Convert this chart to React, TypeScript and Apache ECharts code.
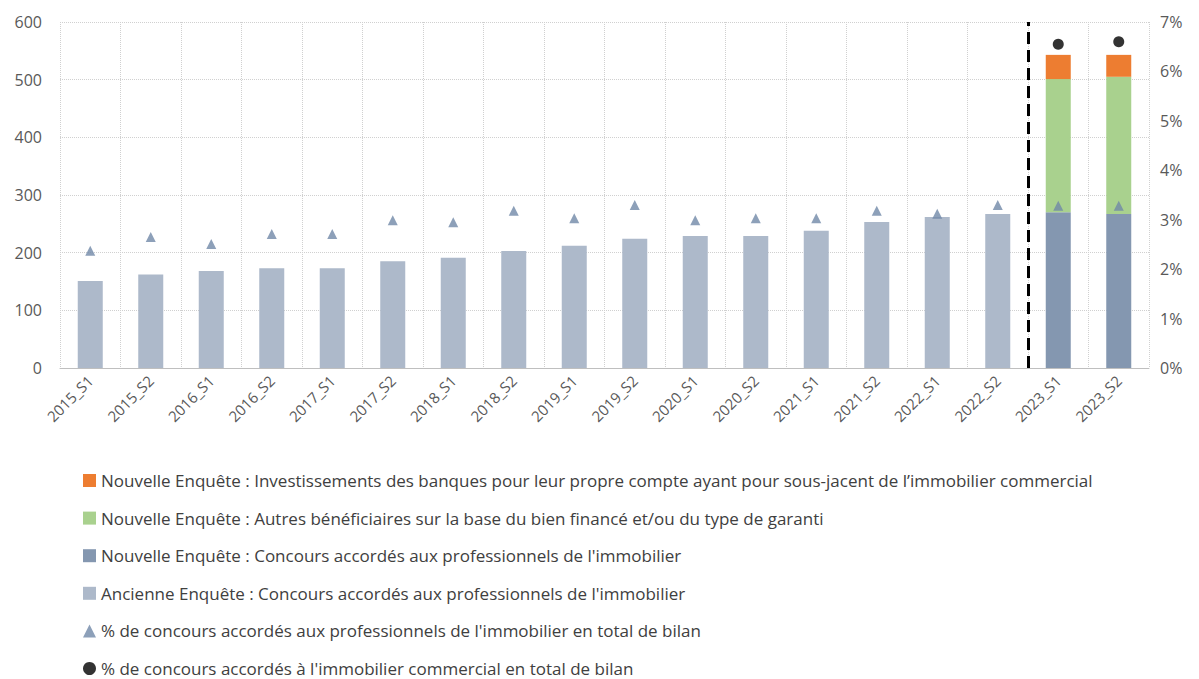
import React, { useEffect, useRef } from "react";
import * as echarts from "echarts";

const categories = [
  "2015_S1", "2015_S2", "2016_S1", "2016_S2", "2017_S1", "2017_S2",
  "2018_S1", "2018_S2", "2019_S1", "2019_S2", "2020_S1", "2020_S2",
  "2021_S1", "2021_S2", "2022_S1", "2022_S2", "2023_S1", "2023_S2",
];

const ancienne: (number | string)[] = [
  151, 162, 168, 173, 173, 185, 191, 203, 212, 224, 229, 229, 238, 253, 262, 267, "-", "-",
];
const nouvelleConcours: (number | string)[] = [
  "-", "-", "-", "-", "-", "-", "-", "-", "-", "-", "-", "-", "-", "-", "-", "-", 270, 267,
];
const autresBeneficiaires: (number | string)[] = [
  "-", "-", "-", "-", "-", "-", "-", "-", "-", "-", "-", "-", "-", "-", "-", "-", 231, 238,
];
const investissements: (number | string)[] = [
  "-", "-", "-", "-", "-", "-", "-", "-", "-", "-", "-", "-", "-", "-", "-", "-", 42, 38,
];
const pctProfessionnels = [
  2.37, 2.65, 2.51, 2.71, 2.71, 2.99, 2.95, 3.18, 3.03, 3.3, 2.99, 3.03, 3.03, 3.18, 3.12, 3.3, 3.28, 3.28,
];
const pctCommercial: (number | string)[] = [
  "-", "-", "-", "-", "-", "-", "-", "-", "-", "-", "-", "-", "-", "-", "-", "-", 6.55, 6.6,
];
const surveyBreakIndex = 16;

const names = {
  inv: "Nouvelle Enquête : Investissements des banques pour leur propre compte ayant pour sous-jacent de l’immobilier commercial",
  autres: "Nouvelle Enquête : Autres bénéficiaires sur la base du bien financé et/ou du type de garanti",
  nouv: "Nouvelle Enquête : Concours accordés aux professionnels de l'immobilier",
  anc: "Ancienne Enquête : Concours accordés aux professionnels de l'immobilier",
  pctPro: "% de concours accordés aux professionnels de l'immobilier en total de bilan",
  pctCom: "% de concours accordés à l'immobilier commercial en total de bilan",
};

export default function App() {
  const ref = useRef<HTMLDivElement>(null);
  useEffect(() => {
    if (!ref.current) return;
    const chart = echarts.init(ref.current, null, { renderer: "svg" });
    const font = "Open Sans";
    const gridStyle = { color: "#d0d0d0", type: "dotted" as const, width: 1 };
    chart.setOption({
      animation: false,
      textStyle: { fontFamily: font },
      grid: { left: 60, right: 50, top: 22, bottom: 311 },
      legend: {
        orient: "vertical",
        left: 83,
        top: 472,
        padding: 0,
        itemWidth: 13,
        itemHeight: 13,
        itemGap: 20.6,
        textStyle: { fontSize: 17, color: "#404040", fontFamily: font, lineHeight: 17 },
        data: [
          { name: names.inv, icon: "rect" },
          { name: names.autres, icon: "rect" },
          { name: names.nouv, icon: "rect" },
          { name: names.anc, icon: "rect" },
          { name: names.pctPro, icon: "triangle" },
          { name: names.pctCom, icon: "circle" },
        ],
      },
      xAxis: [
        {
          type: "category",
          data: categories,
          axisLine: { lineStyle: { color: "#bfbfbf" } },
          axisTick: { show: false },
          splitLine: { show: true, lineStyle: gridStyle },
          axisLabel: { rotate: 45, fontSize: 15, color: "#595959", margin: 10, interval: 0 },
        },
        {
          type: "value",
          min: 0,
          max: categories.length,
          show: false,
        },
      ],
      yAxis: [
        {
          type: "value",
          min: 0,
          max: 600,
          interval: 100,
          axisLine: { show: false },
          axisTick: { show: false },
          splitLine: { lineStyle: gridStyle },
          axisLabel: { fontSize: 16, color: "#595959", margin: 18 },
        },
        {
          type: "value",
          min: 0,
          max: 7,
          interval: 1,
          position: "right",
          axisLine: { show: false },
          axisTick: { show: false },
          splitLine: { show: false },
          axisLabel: { fontSize: 16, color: "#595959", margin: 11, formatter: "{value}%" },
        },
      ],
      series: [
        {
          name: names.anc,
          type: "bar",
          stack: "a",
          barWidth: 25,
          data: ancienne,
          itemStyle: { color: "#adb9ca" },
        },
        {
          name: names.nouv,
          type: "bar",
          stack: "a",
          barWidth: 25,
          data: nouvelleConcours,
          itemStyle: { color: "#8497b0" },
        },
        {
          name: names.autres,
          type: "bar",
          stack: "a",
          barWidth: 25,
          data: autresBeneficiaires,
          itemStyle: { color: "#a9d18e" },
        },
        {
          name: names.inv,
          type: "bar",
          stack: "a",
          barWidth: 25,
          data: investissements,
          itemStyle: { color: "#ed7d31" },
        },
        {
          name: names.pctPro,
          type: "scatter",
          yAxisIndex: 1,
          symbol: "triangle",
          symbolSize: 10,
          data: pctProfessionnels,
          itemStyle: { color: "#7188a7" },
          z: 5,
        },
        {
          name: names.pctCom,
          type: "scatter",
          yAxisIndex: 1,
          symbol: "circle",
          symbolSize: 11,
          data: pctCommercial,
          itemStyle: { color: "#000000" },
          z: 5,
        },
        {
          name: "break",
          type: "scatter",
          xAxisIndex: 1,
          yAxisIndex: 0,
          data: [],
          silent: true,
          markLine: {
            symbol: "none",
            silent: true,
            label: { show: false },
            lineStyle: { color: "#000000", type: [12, 6], width: 3 },
            data: [{ xAxis: surveyBreakIndex }],
          },
        },
      ],
    });
    return () => chart.dispose();
  }, []);
  return <div ref={ref} style={{ width: 1199, height: 679, position: "absolute", left: 0, top: 0 }} />;
}
